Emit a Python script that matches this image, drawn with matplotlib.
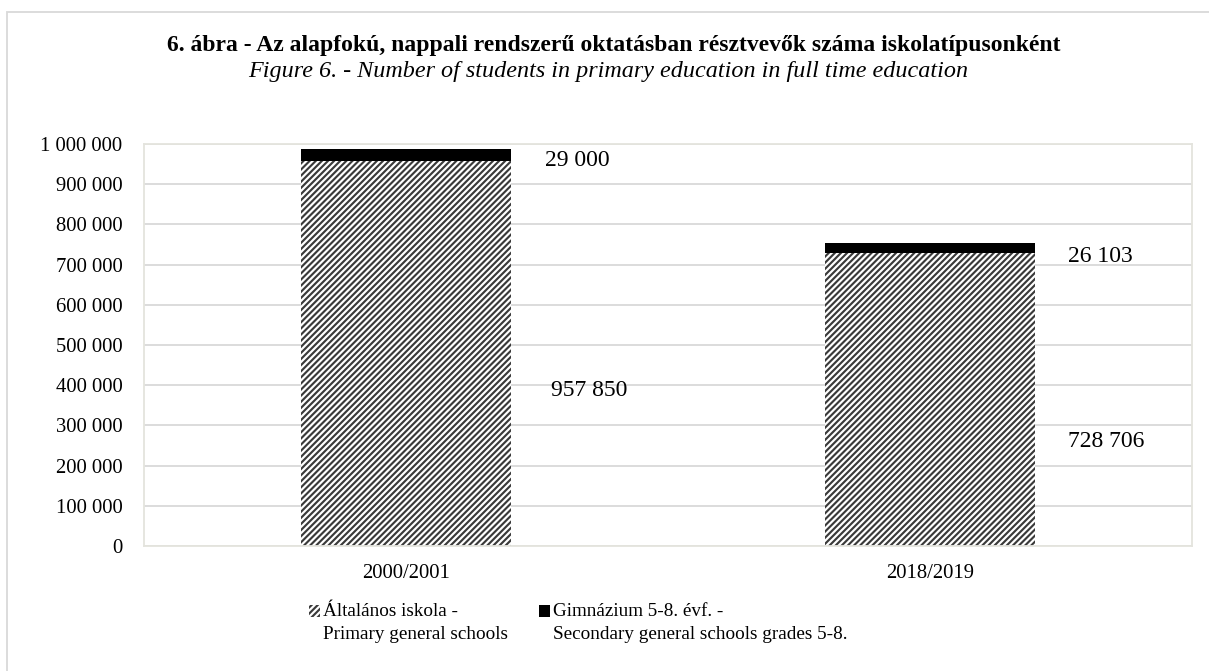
import matplotlib
matplotlib.use('Agg')
import matplotlib.pyplot as plt
from matplotlib.patches import Rectangle, Patch
from matplotlib.legend_handler import HandlerPatch
from matplotlib.ticker import FuncFormatter

# data
years = ['2000/2001', '2018/2019']
primary = [957850, 728706]
secondary = [29000, 26103]
series_names = ['Általános iskola -\nPrimary general schools',
                'Gimnázium 5-8. évf. -\nSecondary general schools grades 5-8.']
title = '6. ábra - Az alapfokú, nappali rendszerű oktatásban résztvevők száma iskolatípusonként'
subtitle = 'Figure 6. - Number of students in primary education in full time education'

plt.rcParams['font.family'] = ['Liberation Serif', 'DejaVu Serif']
plt.rcParams['hatch.linewidth'] = 1.4
plt.rcParams['hatch.color'] = '#3a3a3a'

DPI = 110
fig = plt.figure(figsize=(1209 / DPI, 671 / DPI), dpi=DPI)
ax = fig.add_axes([144 / 1209, 1 - 546 / 671, 1048 / 1209, 402 / 671])

x = list(range(len(years)))
ax.bar(x, primary, width=0.4, color='white', edgecolor='#3a3a3a',
       linewidth=0, hatch='//////', zorder=2)
ax.bar(x, secondary, width=0.4, bottom=primary, color='black',
       linewidth=0, zorder=2)

ax.set_xlim(-0.5, 1.5)
ax.set_ylim(0, 1000000)
ax.set_yticks(range(0, 1000001, 100000))
ax.yaxis.set_major_formatter(FuncFormatter(lambda v, p: f'{int(v):,}'.replace(',', ' ')))
ax.set_xticks(x)
ax.set_xticklabels(years)
ax.tick_params(length=0, labelsize=13.5)
ax.tick_params(axis='x', pad=12)
ax.tick_params(axis='y', pad=14)
ax.grid(axis='y', color='#d9d9d9', linewidth=1.2, zorder=0)
ax.set_axisbelow(True)
for s in ax.spines.values():
    s.set_color('#e4e4de')
    s.set_linewidth(1.2)

# data labels (positions)
fmt = lambda v: f'{v:,}'.replace(',', ' ')
lab_pos_sec = [(0.265, 960000), (0.263, 721000)]
lab_pos_pri = [(0.277, 386000), (0.263, 261000)]
for i in x:
    ax.text(i + lab_pos_sec[i][0], lab_pos_sec[i][1], fmt(secondary[i]),
            fontsize=15.5, va='center', ha='left')
    ax.text(i + lab_pos_pri[i][0], lab_pos_pri[i][1], fmt(primary[i]),
            fontsize=15.5, va='center', ha='left')

fig.text(0.508, 1 - 45 / 671, title, ha='center', va='center',
         fontsize=15.5, fontweight='bold')
fig.text(0.503, 1 - 71 / 671, subtitle, ha='center', va='center',
         fontsize=15.8, style='italic')


# legend marker sits on the first line of the two-line label
def top_patch(legend, orig_handle, xdescent, ydescent, width, height, fontsize):
    return Rectangle((-xdescent, -ydescent + 0.62 * fontsize), width, height)


handles = [Patch(facecolor='white', edgecolor='#3a3a3a', linewidth=0, hatch='//////'),
           Patch(facecolor='black', linewidth=0)]
leg = fig.legend(handles, series_names, loc='upper left',
                 bbox_to_anchor=(309 / 1209, 1 - 603 / 671), ncol=2, frameon=False,
                 fontsize=12.5, handlelength=0.6, handleheight=0.6, handletextpad=0.15,
                 columnspacing=1.6, borderpad=0, borderaxespad=0,
                 handler_map={Patch: HandlerPatch(patch_func=top_patch)})
for t in leg.get_texts():
    t.set_linespacing(1.45)

fig.add_artist(Rectangle((7 / 1209, -0.1), 1.1, 1.1 - 12 / 671,
                         transform=fig.transFigure, fill=False,
                         edgecolor='#d9d9d9', linewidth=1.2))

fig.savefig('out.png', dpi=DPI)
